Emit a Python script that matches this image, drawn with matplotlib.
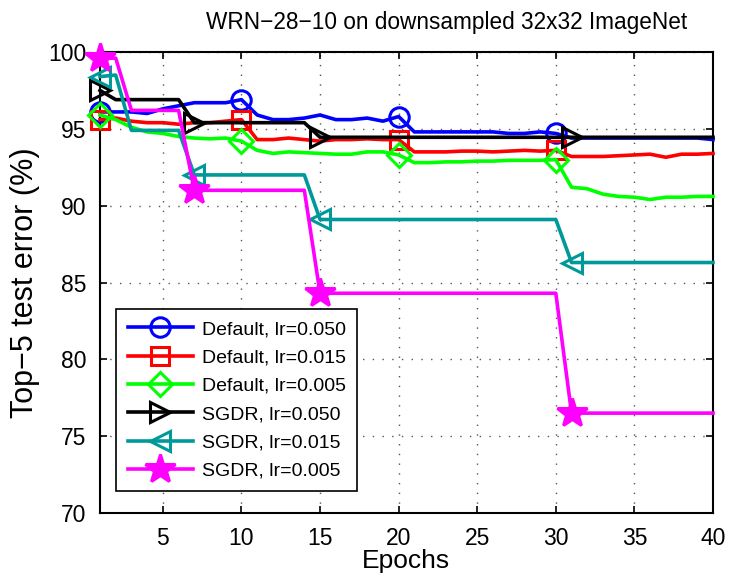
import matplotlib
matplotlib.use("Agg")
import matplotlib.pyplot as plt

plt.rcParams['font.family'] = ['Liberation Sans', 'DejaVu Sans']

epochs = list(range(1, 41))

default_050 = [96.1, 96.1, 96.1, 96.0, 96.3, 96.5, 96.7, 96.7, 96.7, 96.9,
               95.9, 95.6, 95.6, 95.7, 95.9, 95.6, 95.6, 95.7, 95.5, 95.8,
               94.8, 94.8, 94.8, 94.8, 94.8, 94.8, 94.7, 94.7, 94.8, 94.7,
               94.4, 94.4, 94.4, 94.4, 94.4, 94.4, 94.4, 94.4, 94.4, 94.3]
default_015 = [95.6, 95.7, 95.5, 95.4, 95.4, 95.3, 95.4, 95.4, 95.5, 95.6,
               94.3, 94.3, 94.4, 94.3, 94.2, 94.3, 94.3, 94.35, 94.3, 94.3,
               93.5, 93.5, 93.5, 93.55, 93.55, 93.5, 93.55, 93.6, 93.55, 93.6,
               93.2, 93.2, 93.2, 93.25, 93.3, 93.35, 93.15, 93.35, 93.35, 93.4]
default_005 = [95.9, 95.6, 95.1, 94.8, 94.7, 94.5, 94.4, 94.35, 94.4, 94.2,
               93.6, 93.4, 93.5, 93.45, 93.4, 93.35, 93.35, 93.5, 93.5, 93.3,
               92.8, 92.8, 92.85, 92.85, 92.9, 92.9, 92.95, 92.95, 92.95, 93.0,
               91.2, 91.1, 90.75, 90.6, 90.55, 90.4, 90.55, 90.55, 90.6, 90.6]
sgdr_050 = [97.5, 96.9, 96.9, 96.9, 96.9, 96.9, 95.4, 95.4, 95.4, 95.4,
            95.4, 95.4, 95.4, 95.4, 94.45, 94.45, 94.45, 94.45, 94.45, 94.45,
            94.45, 94.45, 94.45, 94.45, 94.45, 94.45, 94.45, 94.45, 94.45, 94.45,
            94.45, 94.45, 94.45, 94.45, 94.45, 94.45, 94.45, 94.45, 94.45, 94.45]
sgdr_015 = [98.4, 98.5, 94.9, 94.9, 94.9, 94.9, 92.0, 92.0, 92.0, 92.0,
            92.0, 92.0, 92.0, 92.0, 89.1, 89.1, 89.1, 89.1, 89.1, 89.1,
            89.1, 89.1, 89.1, 89.1, 89.1, 89.1, 89.1, 89.1, 89.1, 89.1,
            86.3, 86.3, 86.3, 86.3, 86.3, 86.3, 86.3, 86.3, 86.3, 86.3]
sgdr_005 = [99.6, 99.6, 96.2, 96.2, 96.2, 96.2, 91.0, 91.0, 91.0, 91.0,
            91.0, 91.0, 91.0, 91.0, 84.3, 84.3, 84.3, 84.3, 84.3, 84.3,
            84.3, 84.3, 84.3, 84.3, 84.3, 84.3, 84.3, 84.3, 84.3, 84.3,
            76.5, 76.5, 76.5, 76.5, 76.5, 76.5, 76.5, 76.5, 76.5, 76.5]

labels = ["Default, lr=0.050", "Default, lr=0.015", "Default, lr=0.005",
          "SGDR, lr=0.050", "SGDR, lr=0.015", "SGDR, lr=0.005"]
x_ticks = [5, 10, 15, 20, 25, 30, 35, 40]
y_ticks = [70, 75, 80, 85, 90, 95, 100]

default_marks = [0, 9, 19, 29]
sgdr_marks = [0, 6, 14, 30]

fig = plt.figure(figsize=(7.30, 5.77), dpi=100)
ax = fig.add_axes([100/730, 64/577, 613/730, 461/577])

styles = [
    (default_050, 'blue', 'o', default_marks, 'none', 14),
    (default_015, 'red', 's', default_marks, 'none', 13),
    (default_005, '#00ff00', 'D', default_marks, 'none', 12),
    (sgdr_050, 'black', '>', sgdr_marks, 'none', 15),
    (sgdr_015, '#009999', '<', sgdr_marks, 'none', 15),
    (sgdr_005, 'magenta', '*', sgdr_marks, 'magenta', 22),
]
for (vals, col, mk, me, fc, ms), lab in zip(styles, labels):
    ln, = ax.plot(epochs, vals, color=col, lw=2.6, marker=mk, markevery=me,
                  markersize=ms, markerfacecolor=fc, markeredgecolor=col,
                  markeredgewidth=2.2, label=lab, zorder=3)
    ln.set_clip_on(False)

ax.set_xlim(1, 40)
ax.set_ylim(70, 100)
ax.set_xticks(x_ticks)
ax.set_yticks(y_ticks)
ax.tick_params(direction='in', top=True, right=True, length=5, width=1.2,
               labelsize=16.5, pad=10)
for s in ax.spines.values():
    s.set_linewidth(1.5)
ax.grid(True, color='#555555', linestyle=(0, (1, 6)), linewidth=1.0)
ax.set_axisbelow(True)

fig.text(447/730, 1 - 22/577, "WRN\u221228\u221210 on downsampled 32x32 ImageNet",
         fontsize=16.3, ha='center', va='center')
fig.text(406/730, 1 - 561/577, "Epochs", fontsize=19, ha='center', va='center')
fig.text(25/730, 1 - 283/577, "Top\u22125 test error (%)", fontsize=22,
         rotation=90, ha='center', va='center')

leg = ax.legend(loc='upper left', bbox_to_anchor=(16/613, 204/461), fontsize=14,
                handlelength=3.35, handletextpad=0.45, labelspacing=0.55,
                borderpad=0.6, borderaxespad=0, fancybox=False, framealpha=1,
                edgecolor='black')
leg.get_frame().set_linewidth(1.2)

fig.savefig("out.png", dpi=100)
